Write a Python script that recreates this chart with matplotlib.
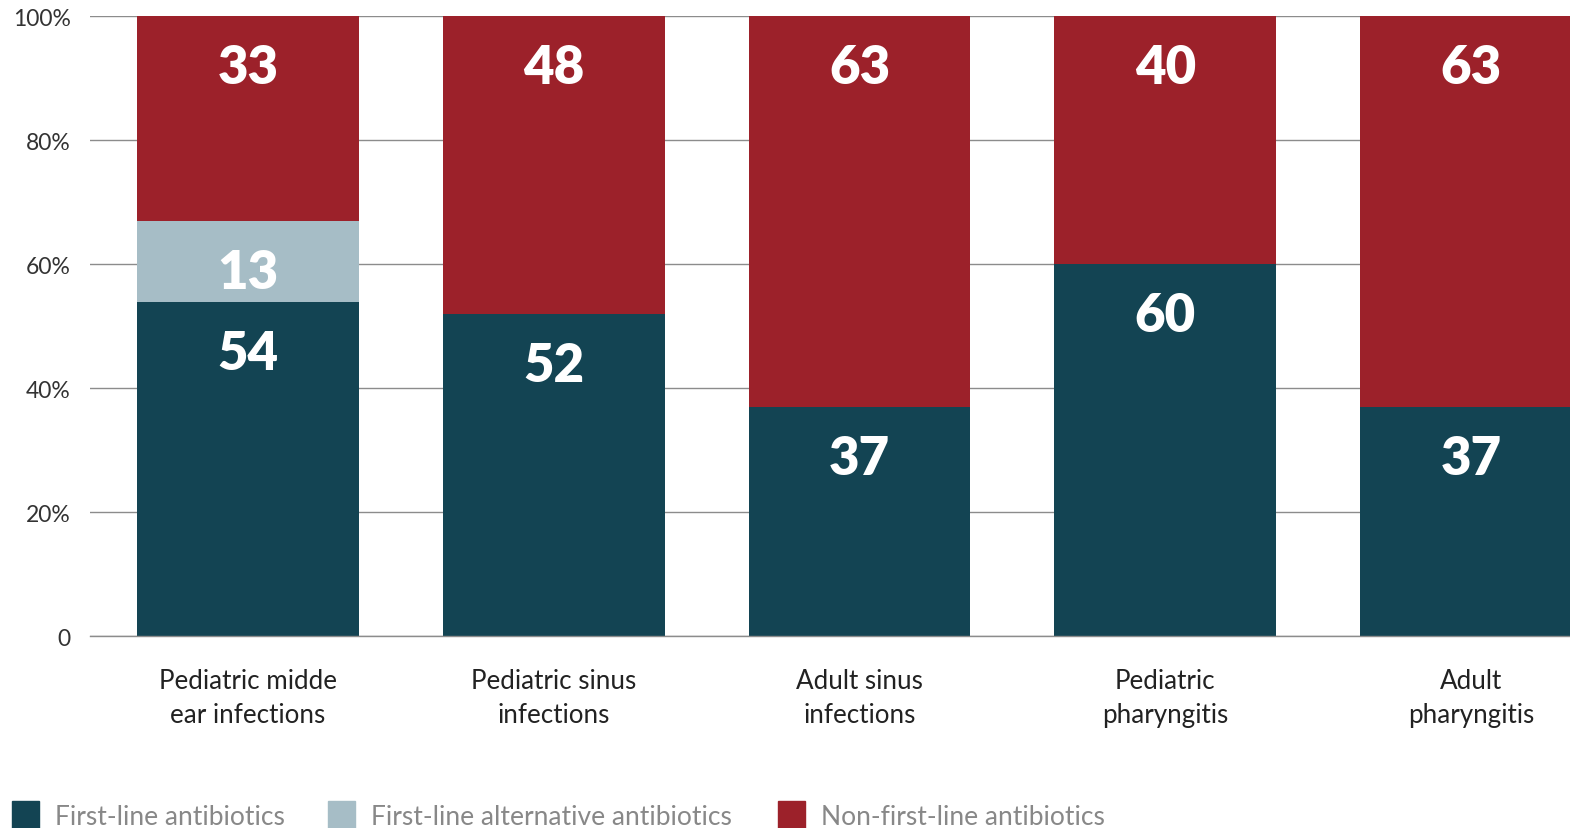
import matplotlib
matplotlib.use("Agg")
import matplotlib.pyplot as plt
from matplotlib.patches import Rectangle

# Доли назначений антибиотиков по типам инфекций, %
categories = ["Pediatric midde\near infections", "Pediatric sinus\ninfections",
              "Adult sinus\ninfections", "Pediatric\npharyngitis", "Adult\npharyngitis"]
first_line = [54, 52, 37, 60, 37]
first_line_alt = [13, 0, 0, 0, 0]
non_first_line = [33, 48, 63, 40, 63]

series_names = ["First-line antibiotics", "First-line alternative antibiotics",
                "Non-first-line antibiotics"]
colors = ["#134453", "#a6bdc6", "#9c212a"]

y_ticks = [0, 20, 40, 60, 80, 100]
y_tick_labels = ["0", "20%", "40%", "60%", "80%", "100%"]

plt.rcParams['font.family'] = ['Lato', 'DejaVu Sans']

fig = plt.figure(figsize=(15.7, 8.29), dpi=100)
ax = fig.add_axes([90 / 1570, 0.2312, 1 - 90 / 1570, 0.7477])

x = list(range(len(categories)))
width = 0.726

bottoms = [0] * len(x)
for vals, color in zip([first_line, first_line_alt, non_first_line], colors):
    ax.bar(x, vals, width=width, bottom=bottoms, color=color, zorder=2)
    for i, v in enumerate(vals):
        if v > 0:
            top = bottoms[i] + v
            ax.annotate(str(v), xy=(x[i], top), xytext=(0, -37),
                        textcoords="offset points", ha="center", va="center",
                        color="white", fontsize=38, fontweight="heavy", zorder=3)
    bottoms = [b + v for b, v in zip(bottoms, vals)]

# Сетка и оси
ax.set_xlim(-0.517, 4.324)
ax.set_ylim(0, 100)
ax.set_yticks(y_ticks)
ax.set_yticklabels(y_tick_labels, fontsize=16.5, color="#333333")
ax.set_xticks(x)
ax.set_xticklabels(categories, fontsize=18.7, color="#222222", linespacing=1.45)
ax.tick_params(axis="y", length=0, pad=14)
ax.tick_params(axis="x", length=0, pad=23)
ax.grid(axis="y", color="#8c8c8c", linewidth=1.0, zorder=0)
ax.axhline(0, color="#8c8c8c", linewidth=1.0, zorder=3, clip_on=False)
for s in ax.spines.values():
    s.set_visible(False)

# Легенда внизу
legend_x = [12, 328, 778]
for lx, name, color in zip(legend_x, series_names, colors):
    fig.add_artist(Rectangle((lx / 1570, -0.005), 27 / 1570, 31 / 829,
                             transform=fig.transFigure, color=color))
    fig.text((lx + 43) / 1570, 0.0135, name, fontsize=19, color="#888888",
             va="center", ha="left")

fig.savefig("out.png", dpi=100)
